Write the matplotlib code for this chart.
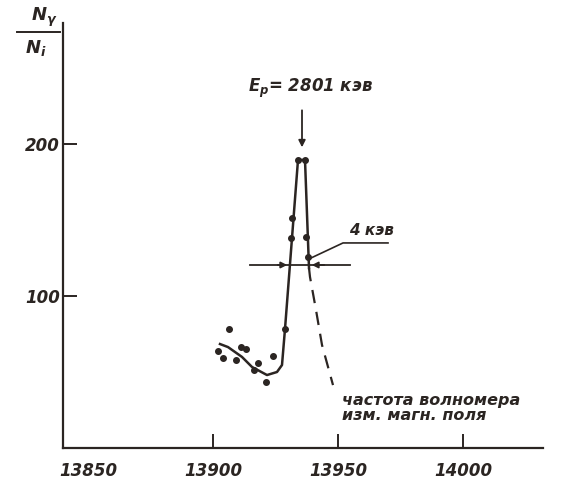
import numpy as np
import matplotlib.pyplot as plt

plt.rcParams['mathtext.fontset'] = 'custom'
plt.rcParams['mathtext.it'] = 'DejaVu Sans:italic:bold'
plt.rcParams['mathtext.rm'] = 'DejaVu Sans:italic:bold'

# wavemeter frequency (x) and N_gamma/N_i (y)
curve_x = [13902.8, 13906.0, 13911.6, 13915.6, 13921.6, 13925.6, 13927.6, 13928.8,
           13934.0, 13936.8, 13938.4]
curve_y = [68.4, 66.4, 59.9, 53.3, 48.0, 50.0, 54.6, 78.3, 189.5, 189.5, 118.4]

dash_x = [13938.4, 13938.8, 13941.2, 13943.6, 13948.0]
dash_y = [118.4, 112.5, 90.8, 67.8, 41.4]

pts_x = [13906.4, 13902.0, 13904.0, 13911.2, 13913.2, 13909.2, 13918.0, 13924.0,
         13921.2, 13916.4, 13928.8, 13931.6, 13931.2, 13937.2, 13938.0, 13934.0, 13936.8]
pts_y = [78.3, 63.8, 59.2, 66.4, 65.1, 57.9, 55.9, 60.5,
         43.4, 51.3, 78.3, 151.3, 138.2, 138.8, 125.7, 189.5, 189.5]

# half-height width bar
half_y = 120.4
half_left, half_right = 13930.8, 13938.4
bar_x = [13914.8, 13954.8]

xticks = [13850, 13900, 13950, 14000]
yticks = [100, 200]

ink = '#2b2522'
font = dict(family='DejaVu Sans', style='italic', weight='bold', color=ink)

fig = plt.figure(figsize=(5.61, 4.86), dpi=100)
ax = fig.add_axes([63/561, 38/486, 480/561, 425/486])

ax.plot(curve_x, curve_y, color=ink, lw=1.8)
ax.plot(dash_x, dash_y, color=ink, lw=1.6, ls=(0, (6, 4)))
ax.scatter(pts_x, pts_y, s=16, color=ink, zorder=3)

ax.plot(bar_x, [half_y, half_y], color=ink, lw=1.3)
ax.annotate('', xy=(half_left, half_y), xytext=(13924.8, half_y),
            arrowprops=dict(arrowstyle='-|>', color=ink, lw=1.3, mutation_scale=9))
ax.annotate('', xy=(half_right, half_y), xytext=(13945.6, half_y),
            arrowprops=dict(arrowstyle='-|>', color=ink, lw=1.3, mutation_scale=9))

# leader to "4 кэв"
ax.plot([13939.2, 13952.0, 13970.0], [125.0, 134.9, 134.9], color=ink, lw=1.2)
ax.text(13963.2, 143.4, '4 кэв', ha='center', va='center', fontsize=11, **font)

# arrow to the peak
ax.annotate('', xy=(13935.6, 196), xytext=(13935.6, 224),
            arrowprops=dict(arrowstyle='-|>', color=ink, lw=1.3, mutation_scale=10))
ax.text(13938.8, 236.8, r'$E_p$= 2801 кэв', ha='center', va='center', fontsize=12, **font)

ax.text(13951.6, 16.5, 'частота волномера\nизм. магн. поля', ha='left', va='bottom',
        fontsize=11.5, linespacing=1.0, **font)

ax.set_xlim(13840, 14032)
ax.set_ylim(0, 279.6)
ax.set_xticks(xticks)
ax.set_xticklabels([str(v) for v in xticks])
ax.set_yticks(yticks)
ax.set_yticklabels([str(v) for v in yticks])
ax.tick_params(axis='both', direction='in', length=10, width=1.4, colors=ink, labelsize=12)
ax.tick_params(axis='x', pad=10)
ax.tick_params(axis='y', pad=2)
ax.xaxis.get_major_ticks()[0].tick1line.set_visible(False)
for lab in ax.get_xticklabels() + ax.get_yticklabels():
    lab.set_fontstyle('italic')
    lab.set_fontweight('bold')

for s in ['top', 'right']:
    ax.spines[s].set_visible(False)
for s in ['left', 'bottom']:
    ax.spines[s].set_linewidth(1.6)
    ax.spines[s].set_color(ink)

# axis label as a fraction
fig.text(44/561, 1 - 17/486, r'$N_\gamma$', ha='center', va='center', fontsize=13, **font)
fig.add_artist(plt.Line2D([17/561, 60/561], [1 - 32/486, 1 - 32/486], color=ink, lw=1.4))
fig.text(36/561, 1 - 48/486, r'$N_i$', ha='center', va='center', fontsize=13, **font)

fig.savefig('out.png', dpi=100, facecolor='white')
